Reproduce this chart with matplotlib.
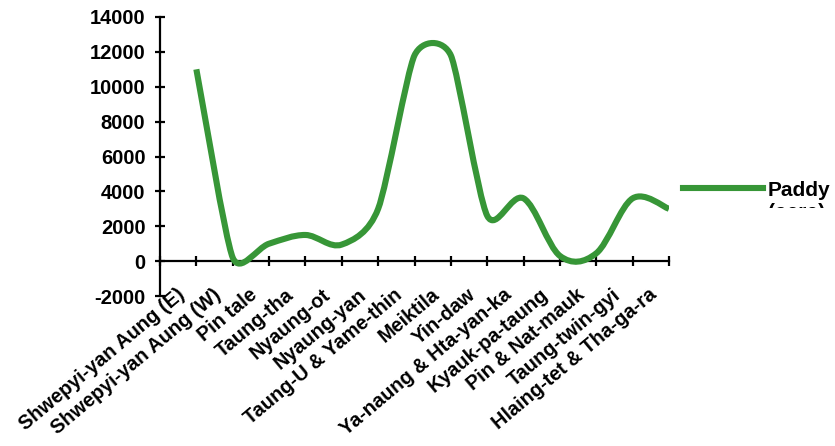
import numpy as np
import matplotlib
matplotlib.use("Agg")
import matplotlib.pyplot as plt
from matplotlib.path import Path
from matplotlib.patches import PathPatch
from matplotlib.lines import Line2D
from matplotlib.transforms import ScaledTranslation, Bbox

plt.rcParams['font.family'] = ['Liberation Sans', 'DejaVu Sans']
plt.rcParams['font.weight'] = 'bold'
plt.rcParams['axes.unicode_minus'] = False

townships = ['Shwepyi-yan Aung (E)', 'Shwepyi-yan Aung (W)', 'Pin tale', 'Taung-tha',
             'Nyaung-ot', 'Nyaung-yan', 'Taung-U & Yame-thin', 'Meiktila', 'Yin-daw',
             'Ya-naung & Hta-yan-ka', 'Kyauk-pa-taung', 'Pin & Nat-mauk',
             'Taung-twin-gyi', 'Hlaing-tet & Tha-ga-ra']
paddy = [11000, 200, 1000, 1500, 950, 3000, 11800, 11800, 2600, 3600, 300, 450, 3600, 3000]
yticks = [-2000, 0, 2000, 4000, 6000, 8000, 10000, 12000, 14000]

green = '#379637'


def smoothPath(ax, xs, ys):
    # bezier smoothing like excel: f=1/6, capped by half the shorter segment
    pts = ax.transData.transform(np.column_stack([xs, ys]))
    n = len(pts)
    outs, ins = [], []
    for i in range(n):
        p0 = pts[i - 1] if i > 0 else pts[i]
        p1 = pts[i]
        p2 = pts[i + 1] if i < n - 1 else pts[i]
        d01 = np.hypot(*(p1 - p0)); d12 = np.hypot(*(p2 - p1)); d02 = np.hypot(*(p2 - p0))
        if i == 0 or i == n - 1:
            short = max(d01, d12)
        else:
            short = min(d01, d12)
        f = 1/6.
        if d02 > 0:
            f = min(f, short / (2 * d02))
        ins.append(p1 - (p2 - p0) * f)
        outs.append(p1 + (p2 - p0) * f)
    verts = [pts[0]]
    codes = [Path.MOVETO]
    for i in range(n - 1):
        verts += [outs[i], ins[i + 1], pts[i + 1]]
        codes += [Path.CURVE4] * 3
    verts = ax.transData.inverted().transform(np.array(verts))
    return Path(verts, codes)


fig = plt.figure(figsize=(8.35, 4.46), dpi=100)
ax = fig.add_axes([160/835, 1 - 296/446, 509/835, 279/446])
n = len(townships)
ax.set_xlim(0, n)
ax.set_ylim(-2000, 14000)

xs = np.arange(1, n + 1)
ax.add_patch(PathPatch(smoothPath(ax, xs, paddy), fill=False, edgecolor=green,
                       lw=4.4, capstyle='butt', joinstyle='round'))

for s in ['top', 'right', 'bottom']:
    ax.spines[s].set_visible(False)
ax.spines['left'].set_linewidth(1.6)
ax.set_yticks(yticks)
ax.set_yticklabels([str(v) for v in yticks])
ax.tick_params(axis='y', direction='inout', length=7, width=1.6, pad=7, labelsize=14.5)

ax.set_xticks(np.arange(n) + 0.5)
ax.set_xticklabels(townships, rotation=40, ha='right', va='top')
ax.tick_params(axis='x', length=0, pad=0, labelsize=14.3)
for lbl in ax.get_xticklabels():
    lbl.set_transform(lbl.get_transform() + ScaledTranslation(10/100, 11/100, fig.dpi_scale_trans))

zero = ax.secondary_xaxis(2000/16000)
zero.set_xticks(np.arange(n + 1))
zero.set_xticklabels([])
zero.tick_params(direction='inout', length=7, width=1.6)
zero.spines['bottom'].set_linewidth(1.6)

# legend drawn by hand, second line cut off like the original
fig.add_artist(Line2D([683/835, 763/835], [1 - 188/446, 1 - 188/446], color=green, lw=4.4))
t = fig.text(768/835, 1 - 181/446, 'Paddy\n(acre)', fontsize=15, fontweight='bold',
             va='top', ha='left', linespacing=1.2)
t.set_clip_box(Bbox([[0, 446 - 208], [835, 446]]))
t.set_clip_on(True)

fig.savefig('out.png', dpi=100)
